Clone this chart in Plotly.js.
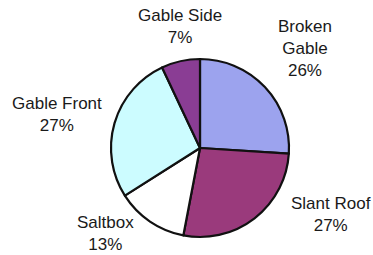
<!DOCTYPE html>
<html>
<head>
<meta charset="utf-8">
<script src="https://cdn.plot.ly/plotly-3.0.1.min.js"></script>
<style>html,body{margin:0;padding:0;background:#fff;}#chart{width:373px;height:255px;}</style>
</head>
<body>
<div id="chart"></div>
<script>
const categories = ["Broken Gable", "Slant Roof", "Saltbox", "Gable Front", "Gable Side"];
const labelText = ["Broken<br>Gable", "Slant Roof", "Saltbox", "Gable Front", "Gable Side"];
const values = [26, 27, 13, 27, 7];
const colors = ["#9ca3ee", "#9a3a7c", "#ffffff", "#ccfcff", "#8a3d94"];
// label anchor positions in pixels (layout only)
const labelPos = [[305, 48], [331, 214], [105, 233], [57, 115], [180, 27]];

const W = 373, H = 255;
const cx = 200, cy = 148, r = 89;

const trace = {
  type: "pie",
  labels: categories,
  values: values,
  sort: false,
  direction: "clockwise",
  rotation: 0,
  textinfo: "none",
  hoverinfo: "none",
  marker: {colors: colors, line: {color: "#111", width: 2.2}},
  domain: {x: [(cx - r) / W, (cx + r) / W], y: [(H - cy - r) / H, (H - cy + r) / H]},
  showlegend: false
};

const total = values.reduce((a, b) => a + b, 0);
const annotations = categories.map((c, i) => ({
  text: labelText[i] + "<br>" + Math.round(values[i] / total * 100) + "%",
  x: labelPos[i][0] / W,
  y: 1 - labelPos[i][1] / H,
  xref: "paper", yref: "paper",
  xanchor: "center", yanchor: "middle",
  showarrow: false,
  align: "center",
  font: {family: "Arial, 'Liberation Sans', sans-serif", size: 17, color: "#1a1a1a"}
}));

Plotly.newPlot("chart", [trace], {
  width: W, height: H,
  margin: {l: 0, r: 0, t: 0, b: 0},
  paper_bgcolor: "#fff",
  plot_bgcolor: "#fff",
  annotations: annotations
}, {displayModeBar: false, staticPlot: true});
</script>
</body>
</html>
